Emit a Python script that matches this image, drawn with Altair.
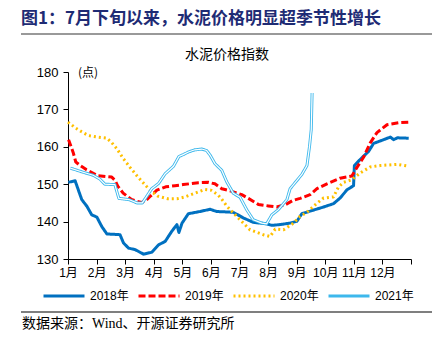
import altair as alt
import pandas as pd

series_names = ["2018年", "2019年", "2020年", "2021年"]
month_labels = ["1月", "2月", "3月", "4月", "5月", "6月", "7月", "8月", "9月", "10月", "11月", "12月", ""]

m2018 = [0.01, 0.25, 0.36, 0.48, 0.66, 0.83, 1.01, 1.18, 1.36, 1.82, 1.94, 2.12, 2.35, 2.64, 2.93,
         3.17, 3.40, 3.63, 3.81, 3.88, 3.99, 4.21, 4.62, 4.97, 5.20, 5.78, 6.13, 6.48, 6.95, 7.13,
         7.42, 7.77, 8.01, 8.18, 8.47, 8.94, 9.29, 9.52, 9.76, 9.99, 10.02, 10.22, 10.52, 10.69,
         11.04, 11.28, 11.39, 11.52, 11.92]
v2018 = [150.5, 150.9, 148.5, 145.9, 144.1, 141.8, 141.2, 138.7, 136.7, 136.5, 134.3, 132.9, 132.5, 131.3, 131.8,
         133.8, 134.7, 137.4, 139.2, 137.1, 139.6, 142.1, 142.7, 143.3, 142.7, 142.5, 141.0, 139.8, 139.4, 139.0,
         139.2, 139.6, 140.1, 142.1, 142.8, 143.9, 144.8, 146.3, 148.5, 149.6, 155.0, 156.6, 158.8, 160.9,
         161.9, 162.6, 161.9, 162.4, 162.3]

m2019 = [0.02, 0.18, 0.27, 0.42, 0.64, 1.04, 1.53, 1.65, 1.74, 1.93, 2.22, 2.57, 2.72, 2.87, 3.11,
         3.42, 3.74, 4.03, 4.56, 4.91, 5.14, 5.38, 5.73, 6.08, 6.31, 6.66, 7.01, 7.30, 7.60, 7.88,
         8.12, 8.47, 8.71, 9.06, 9.52, 9.93, 10.11, 10.34, 10.57, 10.81, 11.16, 11.63, 11.92]
v2019 = [161.9, 158.5, 156.0, 155.0, 153.9, 152.3, 151.9, 151.0, 149.5, 147.6, 145.9, 145.1, 145.6, 146.7, 148.4,
         149.3, 149.6, 149.9, 150.4, 150.5, 150.1, 148.8, 148.1, 147.2, 146.2, 144.6, 144.2, 143.9, 144.5, 145.7,
         146.2, 147.2, 148.8, 150.1, 151.6, 152.2, 154.5, 157.2, 161.0, 163.8, 165.9, 166.5, 166.6]

m2020 = [0.00, 0.27, 0.48, 0.72, 1.04, 1.36, 1.52, 1.71, 1.92, 2.17, 2.44, 2.75, 2.93, 3.14, 3.49,
         3.81, 4.09, 4.44, 4.79, 5.00, 5.24, 5.38, 5.56, 5.90, 6.37, 6.83, 7.07, 7.25, 7.54, 7.89,
         8.12, 8.36, 8.65, 8.94, 9.29, 9.46, 9.64, 9.93, 10.22, 10.57, 10.93, 11.51, 11.92]
v2020 = [166.6, 165.0, 164.0, 163.0, 162.6, 162.3, 161.2, 159.5, 157.0, 154.5, 152.0, 149.4, 148.0, 146.8, 146.1,
         146.1, 146.6, 147.6, 148.6, 148.4, 147.2, 146.0, 144.1, 141.4, 137.8, 136.5, 136.0, 138.0, 137.8, 139.6,
         141.4, 142.5, 144.5, 146.3, 146.6, 149.2, 150.5, 151.2, 153.0, 154.6, 155.0, 155.3, 154.8]

m2021 = [0.08, 0.53, 0.88, 1.11, 1.29, 1.64, 1.71, 1.78, 2.13, 2.41, 2.60, 2.76, 2.93, 3.17, 3.40,
         3.69, 3.88, 4.03, 4.21, 4.44, 4.68, 4.85, 4.97, 5.14, 5.38, 5.55, 5.78, 6.02, 6.25, 6.48,
         6.78, 6.95, 7.13, 7.36, 7.66, 7.77, 8.01, 8.18, 8.36, 8.45, 8.51, 8.54]
v2021 = [154.3, 153.2, 152.4, 151.4, 150.0, 149.9, 148.0, 146.2, 145.9, 145.0, 145.0, 146.8, 148.8, 150.2, 152.8,
         154.8, 157.4, 157.9, 158.6, 159.2, 159.4, 159.0, 157.8, 155.5, 153.7, 150.7, 147.6, 146.5, 143.2, 140.5,
         139.6, 139.4, 141.8, 143.2, 145.9, 148.8, 151.0, 152.6, 155.0, 160.1, 164.6, 174.4]

y_ticks = [130, 140, 150, 160, 170, 180]

rows = []
for name, ms, vs in zip(series_names, [m2018, m2019, m2020, m2021], [v2018, v2019, v2020, v2021]):
    for m, v in zip(ms, vs):
        rows.append({"series": name, "month": m, "value": v})
df = pd.DataFrame(rows)

LAT = "Liberation Sans, Noto Sans CJK SC"
CJK = "Noto Sans CJK SC"

label_expr = "[" + ",".join("'%s'" % s for s in month_labels) + "][datum.value]"

x_enc = alt.X("month:Q",
              scale=alt.Scale(domain=[0, 12], nice=False, zero=False),
              axis=alt.Axis(values=list(range(13)), labelExpr=label_expr, title=None, grid=False,
                            tickSize=5, labelPadding=3, domainColor="#000", tickColor="#000",
                            labelColor="#000", labelFontSize=12, labelFont=LAT, labelFlush=False,
                            labelOverlap=False))
y_enc = alt.Y("value:Q",
              scale=alt.Scale(domain=[130, 180], nice=False, zero=False),
              axis=alt.Axis(values=y_ticks, title=None, grid=False, tickSize=5, labelPadding=5,
                            domainColor="#000", tickColor="#000", labelColor="#000",
                            labelFontSize=13, labelFont=LAT))

colors = ["#0070C0", "#FF0000", "#FFC000", "#3DB8EC"]
dashes = [[1, 0], [7, 3], [2, 3], [1, 0]]
widths = [3, 3, 2, 3.6]

lines = alt.Chart(df).mark_line(strokeCap="butt", strokeJoin="round").encode(
    x=x_enc, y=y_enc,
    color=alt.Color("series:N", scale=alt.Scale(domain=series_names, range=colors),
                    legend=alt.Legend(title=None, orient="none", direction="horizontal",
                                      legendX=-26, legendY=202, symbolType="stroke",
                                      symbolSize=1681, labelFontSize=12, labelFont=LAT,
                                      labelColor="#000", labelOffset=4, columnPadding=3)),
    strokeDash=alt.StrokeDash("series:N", scale=alt.Scale(domain=series_names, range=dashes),
                              legend=alt.Legend(title=None)),
    strokeWidth=alt.StrokeWidth("series:N", scale=alt.Scale(domain=series_names, range=widths),
                                legend=alt.Legend(title=None)),
)

inner = alt.Chart(df[df["series"] == "2021年"]).mark_line(color="white", strokeWidth=1.2).encode(
    x=x_enc, y=y_enc)

def text_layer(t, x, y, size, font, color="#000", weight="normal", align="left"):
    return alt.Chart(pd.DataFrame({"t": [t]})).mark_text(
        fontSize=size, font=font, color=color, fontWeight=weight, align=align, baseline="middle"
    ).encode(x=alt.value(x), y=alt.value(y), text="t:N")

title = text_layer("图1：7月下旬以来，水泥价格明显超季节性增长", -47, -53, 17, CJK, "#1E2B74", "bold")
subtitle = text_layer("水泥价格指数", 159, -17, 14, CJK, align="center")
unit = text_layer("(点)", 10, 1, 12, CJK)
source = text_layer("数据来源：Wind、开源证券研究所", -46, 252, 14, "Liberation Serif, Noto Sans CJK SC")

top_rule = alt.Chart(pd.DataFrame({"a": [0]})).mark_rule(color="#999999", strokeWidth=2).encode(
    x=alt.value(-47), x2=alt.value(364), y=alt.value(-38))
bottom_rule = alt.Chart(pd.DataFrame({"a": [0]})).mark_rule(color="#555555", strokeWidth=1.5).encode(
    x=alt.value(-47), x2=alt.value(364), y=alt.value(240))

chart = alt.layer(lines, inner, title, subtitle, unit, source, top_rule, bottom_rule).properties(
    width=343, height=187,
    autosize=alt.AutoSizeParams(type="none"),
    padding={"left": 68, "top": 72, "right": 27, "bottom": 88},
    background="white",
).configure_view(stroke=None)

chart.save("out.html", embed_options={"renderer": "svg", "actions": False})
